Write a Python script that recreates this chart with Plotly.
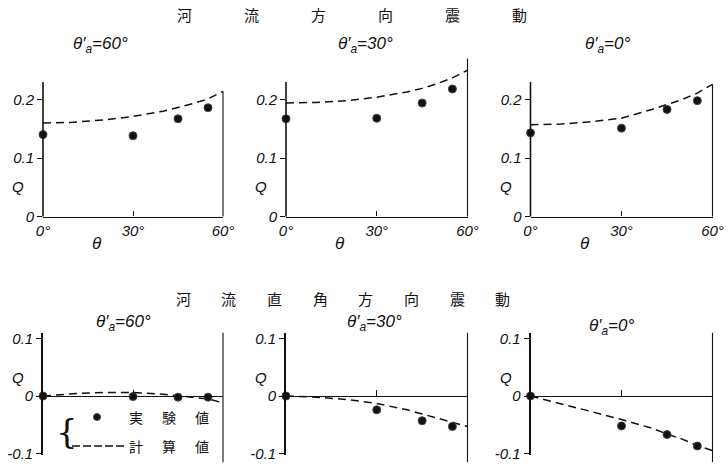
import plotly.graph_objects as go

# ---------------- data ----------------
theta_exp = [0, 30, 45, 55]
theta_calc = [0, 10, 20, 30, 40, 45, 50, 55, 60]

panel_labels = ["θ′<sub>a</sub>=60°", "θ′<sub>a</sub>=30°", "θ′<sub>a</sub>=0°"]

# 河流方向震動 (top row)
exp_top_60 = [0.140, 0.138, 0.167, 0.186]
exp_top_30 = [0.167, 0.168, 0.194, 0.218]
exp_top_0 = [0.143, 0.151, 0.183, 0.198]
calc_top_60 = [0.160, 0.161, 0.165, 0.171, 0.180, 0.186, 0.193, 0.201, 0.214]
calc_top_30 = [0.194, 0.195, 0.198, 0.204, 0.213, 0.219, 0.227, 0.237, 0.250]
calc_top_0 = [0.157, 0.158, 0.162, 0.168, 0.183, 0.191, 0.200, 0.211, 0.226]

# 河流直角方向震動 (bottom row)
exp_bot_60 = [0.0, -0.001, -0.002, -0.002]
exp_bot_30 = [0.0, -0.024, -0.043, -0.053]
exp_bot_0 = [0.0, -0.052, -0.067, -0.087]
calc_bot_60 = [0.0, 0.004, 0.006, 0.006, 0.003, 0.0, -0.002, -0.005, -0.012]
calc_bot_30 = [0.0, -0.002, -0.006, -0.013, -0.024, -0.031, -0.038, -0.045, -0.053]
calc_bot_0 = [0.0, -0.013, -0.027, -0.041, -0.056, -0.066, -0.075, -0.086, -0.095]

x_tick_vals = [0, 30, 60]
x_tick_text = ["0°", "30°", "60°"]
y_top_vals = [0, 0.1, 0.2]
y_top_text = ["0", "0.1", "0.2"]
y_bot_vals = [-0.1, 0, 0.1]
y_bot_text = ["-0.1", "0", "0.1"]

title_top = ["河", "流", "方", "向", "震", "動"]
title_bot = ["河", "流", "直", "角", "方", "向", "震", "動"]
legend_exp = ["実", "験", "値"]
legend_calc = ["計", "算", "値"]

# ---------------- layout helpers ----------------
W, H = 728, 470
INK = "#111111"
NUM_FONT = dict(family="Liberation Sans, Arial", size=14, color=INK, style="italic")
CJK_FONT = dict(family="Noto Sans CJK JP", size=14, color=INK)


def fx(p):
    return p / W


def fy(p):
    return 1 - p / H


cols = [(43, 223), (286, 467.5), (530.5, 712.5)]
top_zero_px, top_scale = 216.5, 585.0
top_range = [0, 0.27]
bot_zero_px, bot_scale = 396.0, 575.0
bot_range = [-0.103, 0.11]

top_dom = [fy(top_zero_px), fy(top_zero_px - top_range[1] * top_scale)]
bot_dom = [fy(bot_zero_px - bot_range[0] * bot_scale), fy(bot_zero_px - bot_range[1] * bot_scale)]


def top_val_to_paper(v):
    return top_dom[0] + (v - top_range[0]) / (top_range[1] - top_range[0]) * (top_dom[1] - top_dom[0])


def bot_val_to_paper(v):
    return bot_dom[0] + (v - bot_range[0]) / (bot_range[1] - bot_range[0]) * (bot_dom[1] - bot_dom[0])


panels = [
    (exp_top_60, calc_top_60, 0, "top"),
    (exp_top_30, calc_top_30, 1, "top"),
    (exp_top_0, calc_top_0, 2, "top"),
    (exp_bot_60, calc_bot_60, 0, "bot"),
    (exp_bot_30, calc_bot_30, 1, "bot"),
    (exp_bot_0, calc_bot_0, 2, "bot"),
]

fig = go.Figure()
layout = dict(
    width=W, height=H, margin=dict(l=0, r=0, t=0, b=0, autoexpand=False),
    paper_bgcolor="white", plot_bgcolor="white", showlegend=False,
)
shapes = []
annotations = []


def label(text, xp, yp, font):
    annotations.append(dict(text=text, xref="paper", yref="paper", x=fx(xp), y=fy(yp),
                            xanchor="center", yanchor="middle", showarrow=False, font=font))


for i, (exp_v, calc_v, c, row) in enumerate(panels):
    n = i + 1
    xa = "x" if n == 1 else f"x{n}"
    ya = "y" if n == 1 else f"y{n}"
    xdom = [fx(cols[c][0]), fx(cols[c][1])]

    fig.add_trace(go.Scatter(
        x=theta_calc, y=calc_v, mode="lines", xaxis=xa, yaxis=ya,
        line=dict(color=INK, width=1.5, dash="8px,5px"), hoverinfo="skip",
    ))
    fig.add_trace(go.Scatter(
        x=theta_exp, y=exp_v, mode="markers", xaxis=xa, yaxis=ya, cliponaxis=False,
        marker=dict(color=INK, size=8, line=dict(color="#444", width=1)), hoverinfo="skip",
    ))

    if row == "top":
        layout[f"xaxis{n}"] = dict(
            domain=xdom, range=[0, 60], anchor=ya, showline=True, linecolor=INK, linewidth=1.3,
            ticks="inside", ticklen=5, tickcolor=INK, tickvals=x_tick_vals, ticktext=x_tick_text,
            tickfont=dict(NUM_FONT, size=15), showgrid=False, zeroline=False, automargin=False,
        )
        layout[f"yaxis{n}"] = dict(
            domain=top_dom, range=top_range, anchor=xa, showline=False,
            ticks="outside", ticklen=5, tickcolor=INK, tickvals=y_top_vals, ticktext=y_top_text,
            tickfont=dict(NUM_FONT, size=15), showgrid=False, zeroline=False, automargin=False,
        )
        shapes.append(dict(type="line", xref="paper", yref="paper",
                           x0=xdom[0], x1=xdom[0], y0=top_val_to_paper(0), y1=top_val_to_paper(0.23),
                           line=dict(color=INK, width=1.6)))
        y_end = top_range[1] if c == 1 else calc_v[-1]
        shapes.append(dict(type="line", xref="paper", yref="paper",
                           x0=xdom[1], x1=xdom[1], y0=top_val_to_paper(0), y1=top_val_to_paper(y_end),
                           line=dict(color=INK, width=1.1)))
        label("θ", cols[c][0] + (cols[c][1] - cols[c][0]) * 0.3, 243, dict(NUM_FONT, size=17))
        label("Q", cols[c][0] - 25, 186, dict(NUM_FONT, size=15))
        label(panel_labels[c], [100, 365, 607][c], 45, dict(NUM_FONT, size=17))
    else:
        pos0 = bot_val_to_paper(0)
        layout[f"xaxis{n}"] = dict(
            domain=xdom, range=[0, 60], anchor="free", position=pos0, showline=True,
            linecolor=INK, linewidth=1.2, ticks="inside", ticklen=6, tickcolor=INK,
            tickvals=[30], showticklabels=False, showgrid=False, zeroline=False, automargin=False,
        )
        layout[f"yaxis{n}"] = dict(
            domain=bot_dom, range=bot_range, anchor=xa, showline=True, linecolor=INK, linewidth=1.6,
            ticks="outside", ticklen=5, tickcolor=INK, tickvals=y_bot_vals, ticktext=y_bot_text,
            tickfont=dict(NUM_FONT, size=15), showgrid=False, zeroline=False, automargin=False,
        )
        shapes.append(dict(type="line", xref="paper", yref="paper",
                           x0=xdom[1], x1=xdom[1], y0=bot_val_to_paper(-0.115), y1=bot_dom[1],
                           line=dict(color=INK, width=1.1)))
        label("Q", cols[c][0] - 25, 377, dict(NUM_FONT, size=15))
        label(panel_labels[c], [123, 375, 611][c], [323, 323, 327][c], dict(NUM_FONT, size=17))


def spaced(chars, x0, dx, y, size=14):
    for k, ch in enumerate(chars):
        label(ch, x0 + k * dx, y, dict(CJK_FONT, size=size))


spaced(title_top, 184, 67, 15, 15)
spaced(title_bot, 183, 45.7, 298, 15)

# legend inside lower-left panel
spaced(legend_exp, 136, 33, 417, 14)
spaced(legend_calc, 136, 33, 446, 14)
label("{", 67, 431, dict(family="DejaVu Serif", size=34, color=INK))
shapes.append(dict(type="circle", xref="paper", yref="paper",
                   x0=fx(93.5), x1=fx(100.5), y0=fy(420.5), y1=fy(413.5),
                   fillcolor=INK, line=dict(color="#444", width=1)))
shapes.append(dict(type="line", xref="paper", yref="paper",
                   x0=fx(72), x1=fx(125), y0=fy(446), y1=fy(446),
                   line=dict(color=INK, width=1.4, dash="8px,3px")))

layout["shapes"] = shapes
layout["annotations"] = annotations
fig.update_layout(**layout)
fig.write_html("out.html")
